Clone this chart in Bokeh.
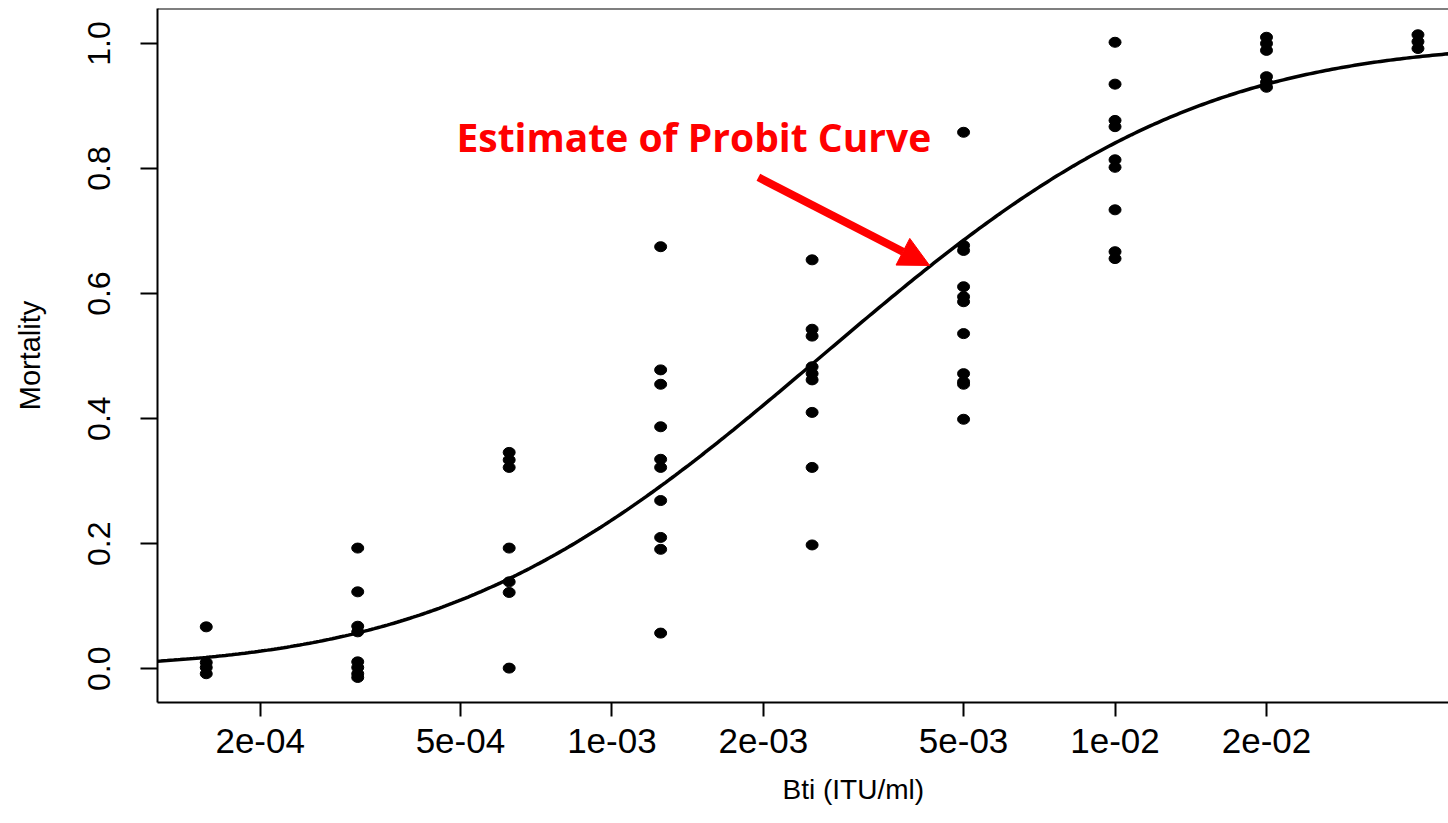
import math
from bokeh.plotting import figure
from bokeh.models import Range1d, FixedTicker, Label, Arrow, NormalHead, Span, Title
from bokeh.embed import file_html
from bokeh.resources import INLINE

# Bti dose (ITU/ml) for each bioassay cup and the observed mortality (jittered)
dose = (
    [1.5625e-4] * 4
    + [3.125e-4] * 8
    + [6.25e-4] * 7
    + [1.25e-3] * 10
    + [2.5e-3] * 9
    + [5e-3] * 11
    + [1e-2] * 9
    + [2e-2] * 6
    + [4e-2] * 3
)
mortality = [
    0.067, 0.010, 0.002, -0.008,
    0.193, 0.123, 0.068, 0.059, 0.011, 0.002, -0.008, -0.014,
    0.346, 0.334, 0.322, 0.193, 0.139, 0.122, 0.001,
    0.675, 0.478, 0.455, 0.387, 0.335, 0.322, 0.269, 0.210, 0.191, 0.057,
    0.654, 0.543, 0.532, 0.483, 0.472, 0.462, 0.410, 0.322, 0.198,
    0.858, 0.677, 0.669, 0.611, 0.595, 0.587, 0.536, 0.472, 0.459, 0.455, 0.399,
    1.002, 0.935, 0.877, 0.867, 0.814, 0.802, 0.734, 0.667, 0.656,
    1.010, 1.000, 0.989, 0.947, 0.938, 0.930,
    1.014, 1.003, 0.992,
]

# fitted probit model: P = Phi(intercept + slope * log10(dose))
probit_intercept = 4.42
probit_slope = 1.711

x_ticks = [2e-4, 5e-4, 1e-3, 2e-3, 5e-3, 1e-2, 2e-2]
x_tick_labels = ["2e-04", "5e-04", "1e-03", "2e-03", "5e-03", "1e-02", "2e-02"]
y_ticks = [0.0, 0.2, 0.4, 0.6, 0.8, 1.0]
y_tick_labels = ["0.0", "0.2", "0.4", "0.6", "0.8", "1.0"]

x_lo, x_hi = 1.25e-4, 0.046
y_lo, y_hi = -0.054, 1.056

AXIS_FONT = "Liberation Sans"

p = figure(
    width=1448, height=823,
    x_axis_type="log",
    x_range=Range1d(x_lo, x_hi), y_range=Range1d(y_lo, y_hi),
    output_backend="svg", toolbar_location=None,
    min_border_left=157, min_border_right=0,
    min_border_top=8, min_border_bottom=121,
)
p.outline_line_color = None
p.grid.visible = False
p.background_fill_color = "white"
p.border_fill_color = "white"

# probit curve across the whole x range
n = 400
lx0, lx1 = math.log10(x_lo), math.log10(x_hi)
curve_x = [10 ** (lx0 + (lx1 - lx0) * i / (n - 1)) for i in range(n)]
curve_y = [0.5 * (1 + math.erf((probit_intercept + probit_slope * math.log10(v)) / math.sqrt(2)))
           for v in curve_x]
p.line(curve_x, curve_y, line_color="black", line_width=3.5)

# observations
p.ellipse(dose, mortality, width=12, height=10, width_units="screen", height_units="screen",
          fill_color="black", line_color="black")

# axes
xa = p.xaxis[0]
xa.ticker = FixedTicker(ticks=x_ticks)
xa.major_label_overrides = {t: s for t, s in zip(x_ticks, x_tick_labels)}
ya = p.yaxis[0]
ya.ticker = FixedTicker(ticks=y_ticks)
ya.major_label_overrides = {t: s for t, s in zip(y_ticks, y_tick_labels)}
ya.major_label_orientation = "vertical"

for ax in (xa, ya):
    ax.minor_tick_line_color = None
    ax.major_tick_in = 0
    ax.axis_line_color = "black"
    ax.axis_line_width = 2
    ax.major_tick_line_color = "black"
    ax.major_tick_line_width = 2
    ax.major_label_text_font = AXIS_FONT
    ax.major_label_text_color = "black"

xa.major_tick_out = 14
xa.major_label_standoff = 12
xa.major_label_text_font_size = "35px"
ya.major_tick_out = 17
ya.major_label_standoff = 30
ya.major_label_text_font_size = "32px"

ya.axis_label = "Mortality"
ya.axis_label_text_font = AXIS_FONT
ya.axis_label_text_font_style = "normal"
ya.axis_label_text_font_size = "29px"
ya.axis_label_text_color = "black"
ya.axis_label_standoff = 40

# x-axis title, set a little right of the frame centre
p.add_layout(Title(text="Bti (ITU/ml)", align="left", offset=625, standoff=33,
                   text_font=AXIS_FONT, text_font_style="normal", text_font_size="28px",
                   text_color="black"), "below")

# top border of the plotting box
p.add_layout(Span(location=y_hi, dimension="width", line_color="black", line_width=2))

# annotation pointing at the fitted curve
p.add_layout(Label(x=4.91e-4, y=0.851, text="Estimate of Probit Curve",
                   text_baseline="alphabetic", text_font="Open Sans", text_font_style="bold",
                   text_font_size="39px", text_color="#ff0000"))
p.add_layout(Arrow(x_start=1.955e-3, y_start=0.786, x_end=4.28e-3, y_end=0.645,
                   line_color="#ff0000", line_width=8,
                   end=NormalHead(size=30, fill_color="#ff0000", line_color="#ff0000")))

open("out.html", "w").write(file_html(p, INLINE))
